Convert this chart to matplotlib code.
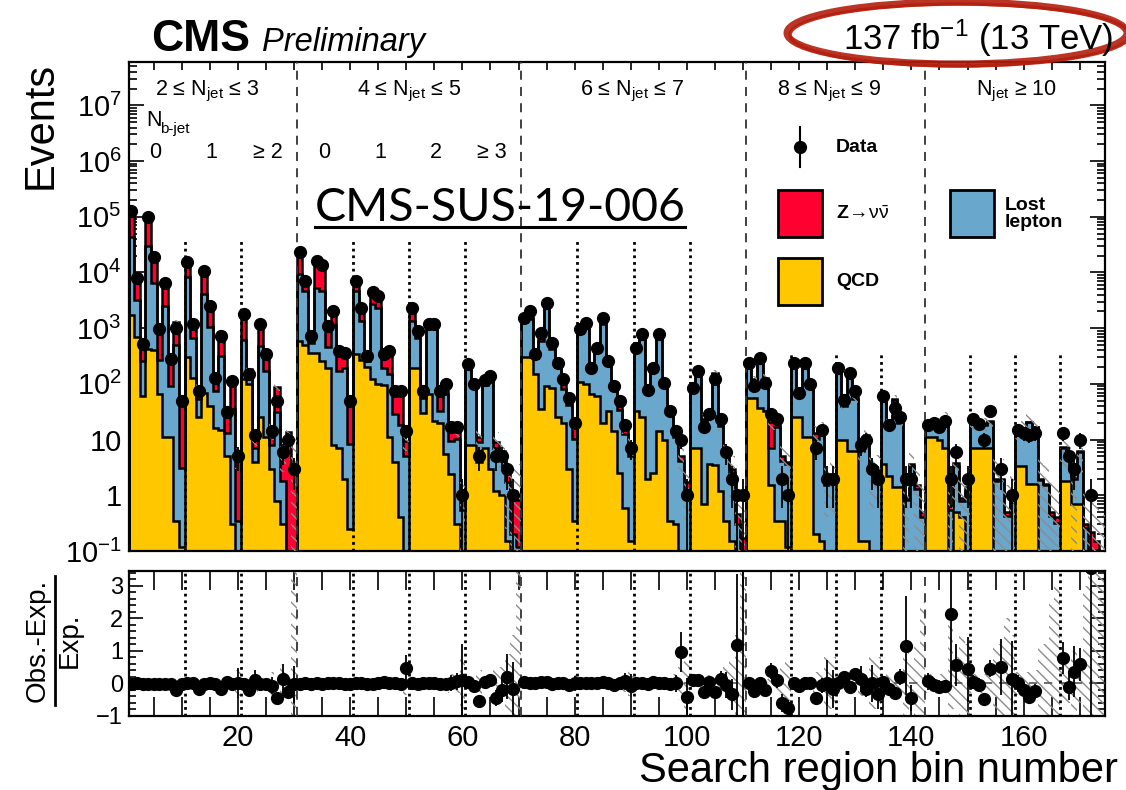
import numpy as np
import matplotlib.pyplot as plt
from matplotlib.patches import Rectangle, Ellipse
from matplotlib.lines import Line2D
from matplotlib.ticker import MultipleLocator, LogLocator, FuncFormatter, NullFormatter
import matplotlib.transforms as mtrans

plt.rcParams['font.family'] = ['Liberation Sans', 'DejaVu Sans']
plt.rcParams['mathtext.fontset'] = 'custom'
plt.rcParams['mathtext.rm'] = 'Liberation Sans'
plt.rcParams['mathtext.it'] = 'Liberation Sans:italic'
plt.rcParams['mathtext.bf'] = 'Liberation Sans:bold'
plt.rcParams['hatch.color'] = '#8c8c8c'
plt.rcParams['hatch.linewidth'] = 1.0

# ---- values, search region bins 1..174 ----
qcd = [
    1700, 700, 60, 420, 400, 65, 11, 11, 0.35, 0.12,
    300, 130, 25, 70, 40, 16, 15, 5, 0.3, 0.05,
    120, 100, 4, 25, 11, 3, 0.8, 0.3, 0.05, 0.02,
    590, 500, 360, 360, 260, 190, 8, 7, 2, 0.25,
    340, 270, 200, 120, 100, 95, 11, 4, 0.4, 0.1,
    195, 190, 30, 65, 22, 20, 5.5, 2.4, 0.3, 0.05,
    8, 8, 4, 7, 3, 1.2, 1.0, 0.15, 0.05, 0.02,
    300, 300, 150, 35, 90, 85, 25, 20, 3, 0.35,
    110, 100, 65, 60, 20, 32, 14, 2.5, 0.6, 0.15,
    32, 25, 2, 2.5, 14, 10, 0.35, 0.3, 0.05, 0.02,
    7, 7, 0.7, 3.6, 3.5, 1.2, 0.35, 0.15, 0.01, 0.001,
    55, 55, 37, 32, 1.5, 0.35, 0.35, 0.12,
    25, 25, 11, 11, 0.2, 0.15, 0.05, 0.05,
    10, 10, 6.3, 6.3, 0.15, 0.15, 0.05, 0.05,
    3.6, 2.2, 1.4, 1.4, 0.03, 0.05, 0.02, 0.01,
    11, 11, 10, 7, 0.05, 0.5, 0.4, 0.1,
    7, 7, 7, 7, 0.1, 0.05, 0.02, 0.02,
    3.4, 3.4, 1.6, 1.6, 0.1, 0.05, 0.02, 0.02,
    1.8, 1.8, 0.7, 0.7, 0.01, 0.005, 0.005, 0.005,
]
lost_lepton = [
    41000, 2500, 200, 30000, 6000, 200, 2500, 80, 500, 3,
    8000, 550, 28, 4000, 1000, 60, 300, 8, 35, 0.3,
    500, 40, 3, 450, 160, 5, 30, 1.5, 0.05, 0.05,
    8700, 4200, 190, 5000, 4400, 270, 1150, 160, 190, 8,
    4300, 1080, 60, 2550, 2220, 100, 138, 25, 18, 5,
    1155, 490, 25, 1015, 990, 13, 60, 7, 10, 0.5,
    180, 80, 5, 90, 107, 5.8, 3.6, 1.6, 0.15, 0.1,
    1000, 1150, 145, 555, 2180, 345, 175, 60, 38, 10,
    700, 1000, 105, 310, 1190, 183, 63, 32, 12, 5,
    400, 700, 72, 167, 721, 84, 28, 11, 4, 1.2,
    66, 140, 20.7, 22, 148, 16.6, 5.3, 2.4, 0.3, 0.02,
    165, 50, 233, 78, 5.5, 16.5, 3.8, 3.5,
    205, 40, 220, 80, 10, 13, 1.5, 2.1,
    181, 30, 162, 48, 6, 11, 2.6, 2.6,
    51, 18.3, 49, 18.6, 0.8, 3.3, 1.3, 0.4,
    5, 9, 8, 16, 0.5, 2.8, 0.4, 1.1,
    14, 12, 11, 14, 1.7, 1.8, 0.4, 0.75,
    11, 12, 18.9, 15, 1.8, 1.45, 0.4, 0.3,
    5.2, 3.5, 1.3, 5.3, 0.25, 0.03, 0.1, 0.07,
]
znunu = [
    87000, 4800, 260, 70000, 12600, 700, 4200, 190, 800, 47,
    6700, 470, 35, 6700, 1460, 54, 555, 17, 80, 4.6,
    1180, 45, 4, 700, 170, 7, 58, 3.5, 13.4, 3,
    13700, 2300, 190, 10640, 9340, 640, 842, 223, 178, 42,
    2360, 950, 60, 1730, 1480, 135, 241, 43, 56, 4.4,
    950, 220, 17, 70, 140, 42, 35, 7.5, 5.6, 0.35,
    27, 20, 2, 15, 15, 2, 1.7, 0.75, 1.0, 0.7,
    200, 550, 45, 210, 530, 130, 40, 40, 17, 9.5,
    140, 150, 20, 70, 290, 35, 18, 13.5, 4.4, 2.35,
    8, 35, 6, 20, 35, 11, 4.7, 2.7, 1.05, 0.48,
    4, 8, 1.6, 2.4, 8.5, 2.2, 0.65, 0.45, 0.15, 0.15,
    20, 15, 20, 20, 14, 4.2, 0.85, 0.38,
    10, 10, 9, 7, 2.8, 2.85, 0.45, 0.25,
    4, 3, 7, 3, 0.85, 0.85, 0.35, 0.25,
    2.4, 1.5, 2.5, 1, 0.1, 0.25, 0.18, 0.09,
    1, 1, 1, 1, 0.09, 0.5, 0.1, 0.2,
    1, 1, 1, 1, 0.2, 0.15, 0.08, 0.1,
    0.6, 0.6, 0.5, 0.4, 0.1, 0.1, 0.08, 0.08,
    0.3, 0.3, 0.2, 0.3, 0.04, 0.185, 0.045, 0.025,
]
observed = [
    129000, 8100, 510, 98000, 18600, 950, 6600, 275, 1020, 49,
    15100, 1170, 74, 10700, 2510, 129, 724, 31, 112, 5,
    1780, 148, 12, 1170, 340, 14, 49, 6, 10, 3,
    22900, 7080, 724, 16200, 13800, 1100, 2000, 390, 363, 49,
    7080, 2340, 316, 4370, 3800, 340, 390, 74, 74, 14,
    2340, 890, 74, 1170, 1170, 74, 98, 17, 17, 1,
    224, 98, 5, 117, 138, 5, 5, 3, 1, 0,
    1550, 2040, 340, 830, 2880, 550, 240, 120, 56, 20,
    955, 1260, 195, 447, 1550, 257, 91, 49, 18, 7,
    447, 776, 79, 195, 776, 105, 32, 14, 10, 1,
    85, 170, 17, 29, 120, 23, 6, 2, 1, 1,
    240, 91, 295, 105, 29, 23, 2, 1,
    240, 69, 240, 98, 7, 15, 2, 2,
    195, 52, 158, 74, 8, 10, 3, 2,
    60, 18, 37, 25, 2, 2, 0, 0,
    18, 20, 17, 22, 2, 6, 0, 2,
    23, 19, 10, 32, 0, 3, 0, 1,
    15, 13, 12, 13, 0, 0, 0, 0,
    13, 5, 3, 10, 0, 1, 0, 0,
]
# relative uncertainty of the prediction (hatched band)
rel_unc = [
    0.03, 0.04, 0.08, 0.03, 0.03, 0.08, 0.04, 0.1, 0.06, 0.2,
    0.04, 0.06, 0.15, 0.04, 0.05, 0.12, 0.06, 0.2, 0.12, 0.4,
    0.06, 0.12, 0.3, 0.06, 0.1, 0.35, 0.15, 0.5, 0.3, 3.5,
    0.03, 0.04, 0.07, 0.03, 0.03, 0.07, 0.05, 0.08, 0.08, 0.2,
    0.04, 0.05, 0.1, 0.04, 0.04, 0.1, 0.07, 0.15, 0.15, 0.35,
    0.05, 0.06, 0.15, 0.05, 0.05, 0.15, 0.12, 0.3, 0.3, 0.9,
    0.08, 0.12, 0.4, 0.1, 0.1, 0.5, 0.5, 0.9, 1.5, 3.5,
    0.05, 0.05, 0.08, 0.06, 0.05, 0.08, 0.1, 0.12, 0.15, 0.25,
    0.05, 0.05, 0.08, 0.07, 0.05, 0.08, 0.12, 0.18, 0.25, 0.4,
    0.06, 0.06, 0.15, 0.1, 0.06, 0.12, 0.2, 0.3, 0.5, 0.8,
    0.12, 0.1, 0.25, 0.25, 0.12, 0.3, 0.5, 0.7, 1.5, 3.5,
    0.1, 0.15, 0.1, 0.15, 0.3, 0.3, 0.6, 0.7,
    0.1, 0.15, 0.1, 0.15, 0.35, 0.3, 0.8, 0.8,
    0.1, 0.2, 0.1, 0.2, 0.4, 0.35, 0.8, 0.8,
    0.2, 0.3, 0.2, 0.3, 1.0, 0.6, 1.2, 2.5,
    0.3, 0.3, 0.3, 0.3, 2.0, 0.8, 1.5, 1.2,
    0.3, 0.3, 0.3, 0.35, 1.2, 1.2, 2.0, 1.5,
    0.35, 0.35, 0.35, 0.4, 1.2, 1.2, 2.5, 3.0,
    0.6, 0.6, 1.0, 0.6, 3.0, 3.5, 3.5, 3.5,
]

njet_bounds = [30.5, 70.5, 110.5, 142.5]
nb_bounds_tall = [10.5, 20.5, 40.5, 50.5, 60.5, 80.5, 90.5, 100.5]
nb_bounds_short = [118.5, 126.5, 134.5, 150.5, 158.5, 166.5]
njet_labels = ['2 ≤ N$_{\\mathrm{jet}}$ ≤ 3', '4 ≤ N$_{\\mathrm{jet}}$ ≤ 5',
               '6 ≤ N$_{\\mathrm{jet}}$ ≤ 7', '8 ≤ N$_{\\mathrm{jet}}$ ≤ 9',
               'N$_{\\mathrm{jet}}$ ≥ 10']
njet_label_x = [14.6, 50.6, 90.3, 125.4, 158.7]
nb_labels = ['0', '1', '≥ 2', '0', '1', '2', '≥ 3']
nb_label_x = [5.3, 15.3, 25.4, 35.3, 45.4, 55.3, 65.3]
ratio_ticks = [-1, 0, 1, 2, 3]
ratio_tick_labels = ['−1', '0', '1', '2', '3']

RED = '#ff0031'
BLUE = '#6aa7cd'
YELLOW = '#ffc700'

qcd = np.array(qcd, float)
lost_lepton = np.array(lost_lepton, float)
znunu = np.array(znunu, float)
observed = np.array(observed, float)
rel_unc = np.array(rel_unc, float)
nbins = len(qcd)
centers = np.arange(1, nbins + 1)
edges = np.arange(0.5, nbins + 1)

stack_q = qcd
stack_ql = qcd + lost_lepton
total = stack_ql + znunu

W, H = 1126, 790
fig = plt.figure(figsize=(W / 100, H / 100), dpi=100)


def fx(px):
    return px / W


def fy(py):
    return 1 - py / H


ax = fig.add_axes([fx(128.5), fy(551), fx(1105) - fx(128.5), fy(62) - fy(551)])
axr = fig.add_axes([fx(128.5), fy(716), fx(1105) - fx(128.5), fy(571) - fy(716)])

# ---- main panel ----
ax.set_yscale('log')
base = 1e-3
for vals, col in [(total, RED), (stack_ql, BLUE), (stack_q, YELLOW)]:
    ax.stairs(vals, edges, baseline=base, fill=True, color=col, lw=0, zorder=2)
    ax.stairs(vals, edges, baseline=base, color='black', lw=1.8, zorder=3)

lo = np.clip(total * (1 - rel_unc), base, None)
hi = total * (1 + rel_unc)
ax.bar(centers, hi - lo, bottom=lo, width=1.0, fill=False, hatch='\\\\\\',
       edgecolor='#8c8c8c', linewidth=0, zorder=4)

has = observed > 0
err = np.sqrt(observed[has])
err_lo = np.minimum(err, observed[has] - 1e-3)
ax.errorbar(centers[has], observed[has], yerr=[err_lo, err], fmt='o', color='black',
            ms=8.5, elinewidth=1.3, capsize=0, zorder=6)

for x in njet_bounds:
    ax.axvline(x, color='#333333', ls=(0, (5, 4)), lw=1.3, zorder=5)
for x in nb_bounds_tall:
    ax.vlines(x, 0.1, 3.7e4, color='black', ls=(0, (1, 1.4)), lw=2.0, zorder=5)
for x in nb_bounds_short:
    ax.vlines(x, 0.1, 390, color='black', ls=(0, (1, 1.4)), lw=2.0, zorder=5)

ax.set_xlim(0.5, nbins + 0.5)
ax.set_ylim(0.1, 6e7)
ax.xaxis.set_major_locator(MultipleLocator(20))
ax.xaxis.set_minor_locator(MultipleLocator(5))
ax.xaxis.set_major_formatter(NullFormatter())
ax.yaxis.set_major_locator(LogLocator(base=10, numticks=20))
ax.yaxis.set_minor_locator(LogLocator(base=10, subs=np.arange(2, 10), numticks=100))
ax.yaxis.set_minor_formatter(NullFormatter())


def log_label(v, pos):
    k = int(round(np.log10(v)))
    if k == 0:
        return '1'
    if k == 1:
        return '10'
    return '$10^{%d}$' % k


ax.yaxis.set_major_formatter(FuncFormatter(log_label))
ax.tick_params(which='both', direction='in', top=True, right=True, labelsize=21, pad=5)
ax.tick_params(which='major', length=11, width=1.2)
ax.tick_params(which='minor', length=6, width=1.2)
ax.tick_params(axis='x', which='both', length=6)
for s in ax.spines.values():
    s.set_linewidth(1.6)

tr = mtrans.blended_transform_factory(ax.transData, fig.transFigure)
for lab, x in zip(njet_labels, njet_label_x):
    ax.text(x, fy(91), lab, transform=tr, ha='center', va='center', fontsize=15.5)
for lab, x in zip(nb_labels, nb_label_x):
    ax.text(x, fy(152), lab, transform=tr, ha='center', va='center', fontsize=15.5)
ax.text(3.6, fy(121), 'N', transform=tr, ha='left', va='center', fontsize=15.5)
ax.text(6.2, fy(129), 'b-jet', transform=tr, ha='left', va='center', fontsize=11)

# ---- ratio panel ----
ratio = (observed[has] - total[has]) / total[has]
rerr = np.sqrt(observed[has]) / total[has]
axr.bar(centers, 2 * rel_unc, bottom=-rel_unc, width=1.0, fill=False, hatch='\\\\\\',
        edgecolor='#8c8c8c', linewidth=0, zorder=2)
axr.axhline(0, color='#555555', ls=(0, (5, 4)), lw=1.2, zorder=3)
for x in njet_bounds:
    axr.axvline(x, color='#333333', ls=(0, (5, 4)), lw=1.3, zorder=3)
for x in nb_bounds_tall + nb_bounds_short:
    axr.axvline(x, color='black', ls=(0, (1, 1.4)), lw=2.0, zorder=3)
axr.errorbar(centers[has], ratio, yerr=rerr, fmt='o', color='black', ms=8.5,
             elinewidth=1.3, capsize=0, zorder=6)
axr.set_xlim(0.5, nbins + 0.5)
axr.set_ylim(-1, 3.45)
axr.xaxis.set_major_locator(MultipleLocator(20))
axr.xaxis.set_minor_locator(MultipleLocator(5))
axr.set_yticks(ratio_ticks)
axr.set_yticklabels(ratio_tick_labels)
axr.yaxis.set_minor_locator(MultipleLocator(0.2))
axr.tick_params(which='both', direction='in', top=True, right=True, labelsize=21)
axr.tick_params(axis='y', labelsize=17)
axr.tick_params(axis='x', which='both', length=14, width=1.2, pad=6)
axr.tick_params(axis='y', which='major', length=10, width=1.2, pad=4)
axr.tick_params(axis='y', which='minor', length=5, width=1.2)
for s in axr.spines.values():
    s.set_linewidth(1.6)

# ---- titles and axis labels ----
fig.text(fx(151), fy(51), 'CMS', fontsize=32, fontweight='bold', va='baseline')
fig.text(fx(262), fy(51), 'Preliminary', fontsize=23.5, style='italic', va='baseline')
fig.text(fx(1113), fy(50), '137 fb$^{-1}$ (13 TeV)', fontsize=25, ha='right', va='baseline')
for dx, dy, lw in [(0, 0, 5), (3, 2, 2.5)]:
    fig.add_artist(Ellipse((fx(957 + dx), fy(33 + dy)), fx(340), 62 / H,
                           transform=fig.transFigure, fill=False,
                           edgecolor='#b41f0e', lw=lw, alpha=0.9))

fig.text(fx(41), fy(62), 'Events', rotation=90, ha='center', va='top', fontsize=30)
fig.text(fx(1118), fy(782), 'Search region bin number', ha='right', va='baseline',
         fontsize=30)
fig.text(fx(38), fy(640), 'Obs.-Exp.', rotation=90, ha='center', va='center', fontsize=20)
fig.add_artist(Line2D([fx(55), fx(55)], [fy(576), fy(705)], color='black', lw=2,
                      transform=fig.transFigure))
fig.text(fx(70), fy(640), 'Exp.', rotation=90, ha='center', va='center', fontsize=20)

# ---- legend ----
fig.add_artist(Line2D([fx(800), fx(800)], [fy(127), fy(167)], color='black', lw=1.5,
                      transform=fig.transFigure))
fig.add_artist(Line2D([fx(800)], [fy(147)], marker='o', ms=8.5, color='black',
                      transform=fig.transFigure))
for (x0, y0, col) in [(778, 190, RED), (778, 258, YELLOW), (950, 190, BLUE)]:
    fig.add_artist(Rectangle((fx(x0), fy(y0 + 47)), fx(44), 47 / H, facecolor=col,
                             edgecolor='black', lw=2, transform=fig.transFigure))
fig.text(fx(836), fy(147), 'Data', fontsize=14, fontweight='bold', va='center')
fig.text(fx(836), fy(214), '$\\mathbf{Z}\\!\\rightarrow\\!\\mathrm{\\nu}\\bar{\\mathrm{\\nu}}$',
         fontsize=14, va='center')
fig.text(fx(836), fy(282), 'QCD', fontsize=14, fontweight='bold', va='center')
fig.text(fx(1005), fy(214), 'Lost\nlepton', fontsize=14, fontweight='bold', va='center',
         linespacing=1.0)

# ---- analysis tag ----
tag = fig.text(fx(500), fy(221), 'CMS-SUS-19-006', family='Lato', fontsize=33.5,
               ha='center', va='baseline')
fig.canvas.draw()
bb = tag.get_window_extent()
fig.add_artist(Line2D([bb.x0 / W, bb.x1 / W], [fy(227), fy(227)], color='black', lw=2.2,
                      transform=fig.transFigure))

fig.savefig('out.png', dpi=100)
